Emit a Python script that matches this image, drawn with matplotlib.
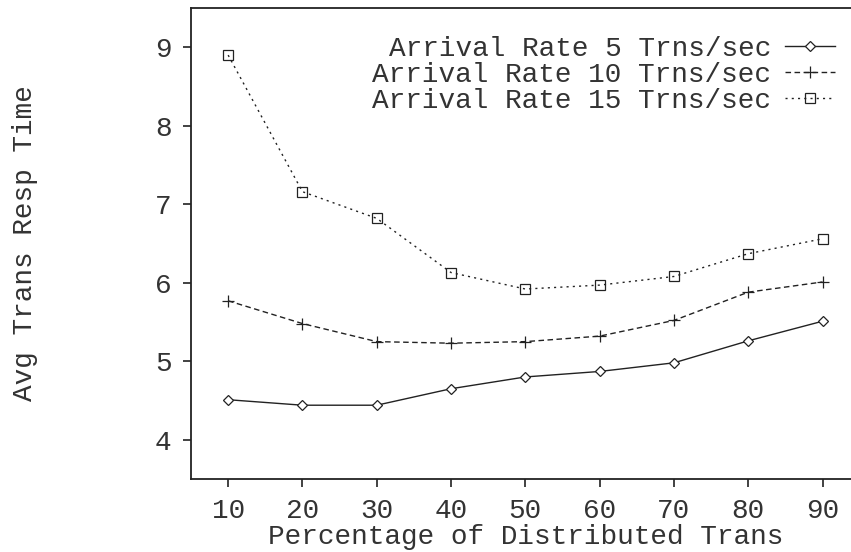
import matplotlib
matplotlib.use('Agg')
import matplotlib.pyplot as plt

# percentage of distributed transactions
pct = [10, 20, 30, 40, 50, 60, 70, 80, 90]

# avg response time per arrival rate
rate5 = [4.51, 4.44, 4.44, 4.65, 4.80, 4.87, 4.98, 5.26, 5.51]
rate10 = [5.77, 5.48, 5.25, 5.23, 5.25, 5.32, 5.52, 5.88, 6.01]
rate15 = [8.90, 7.16, 6.82, 6.13, 5.92, 5.97, 6.08, 6.37, 6.56]

labels = ['Arrival Rate 5 Trns/sec', 'Arrival Rate 10 Trns/sec', 'Arrival Rate 15 Trns/sec']

plt.rcParams['font.family'] = ['Liberation Mono', 'DejaVu Sans Mono']

fig = plt.figure(figsize=(8.51, 5.52), dpi=100)
# axes runs a bit past the right edge, like the original
ax = fig.add_axes([191/851, 73/552, 668.7/851, 471/552])

col = '#222222'
txtcol = '#333333'
ax.plot(pct, rate5, color=col, lw=1.0, ls='-', marker='D', ms=5.5,
        mfc='white', mec=col, mew=0.9, label=labels[0])
ax.plot(pct, rate10, color=col, lw=1.0, ls=(0, (4, 2.5)), marker='+', ms=9,
        mec=col, mew=0.9, label=labels[1])
ax.plot(pct, rate15, color=col, lw=1.0, ls=(0, (1.5, 3)), marker='s', ms=7,
        mfc='none', mec=col, mew=0.9, label=labels[2])

ax.set_xlim(5, 95)
ax.set_ylim(3.5, 9.5)
ax.set_xticks(pct)
ax.set_yticks([4, 5, 6, 7, 8, 9])
ax.tick_params(direction='out', length=6, width=1.2, labelsize=20, colors=col,
               labelcolor=txtcol, pad=8)
for s in ax.spines.values():
    s.set_linewidth(1.3)
    s.set_color(col)

ax.set_xlabel('Percentage of Distributed Trans', fontsize=20, color=txtcol, labelpad=0)
ax.set_ylabel('Avg Trans Resp Time', fontsize=20, color=txtcol, labelpad=84)

leg = ax.legend(loc='upper right', bbox_to_anchor=(0.98, 0.964), frameon=False,
                markerfirst=False, fontsize=20, handlelength=1.8, handletextpad=0.5,
                labelspacing=0.0, borderaxespad=0)
for t in leg.get_texts():
    t.set_ha('right')
    t.set_color(txtcol)
leg._legend_box.align = 'right'

fig.savefig('out.png', dpi=100)
